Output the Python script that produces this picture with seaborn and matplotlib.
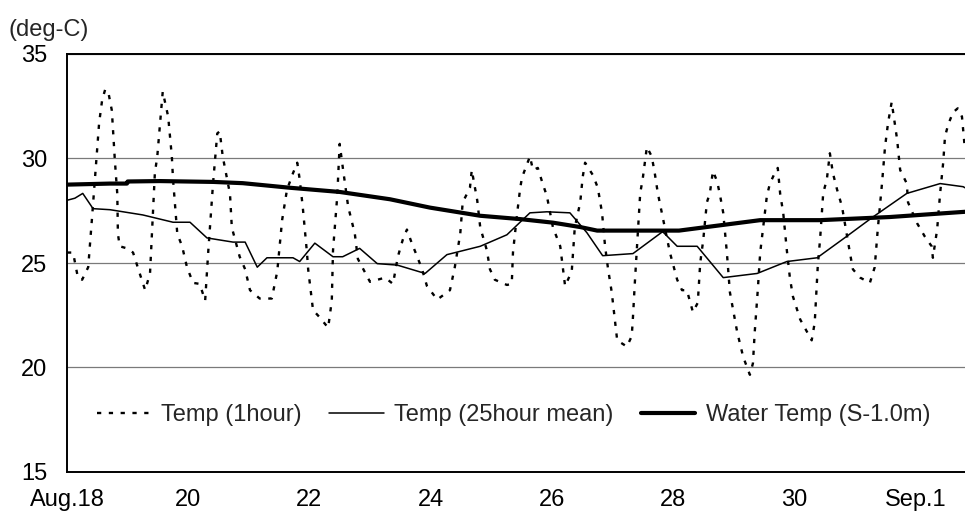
import matplotlib
matplotlib.use("Agg")
import matplotlib.pyplot as plt
import seaborn as sns
import pandas as pd
from matplotlib.ticker import MultipleLocator, FixedLocator

# ---- data (x = day of August, 32 = Sep.1) ----
hour_days = [0.00, 0.10, 0.18, 0.25, 0.35, 0.41, 0.46, 0.53, 0.58, 0.63, 0.68, 0.74, 0.79, 0.83, 0.84, 0.87,
             0.99, 1.09, 1.20, 1.29, 1.37, 1.42, 1.45, 1.49, 1.53, 1.58, 1.67, 1.73, 1.75, 1.82, 1.90, 1.98,
             2.08, 2.19, 2.28, 2.33, 2.41, 2.48, 2.52, 2.57, 2.69, 2.72, 2.85, 2.94, 3.02, 3.18, 3.38, 3.47,
             3.55, 3.63, 3.73, 3.80, 3.84, 3.89, 3.96, 3.98, 4.06, 4.17, 4.31, 4.37, 4.39, 4.46, 4.50, 4.55,
             4.64, 4.75, 4.80, 5.00, 5.25, 5.38, 5.46, 5.54, 5.61, 5.69, 5.78, 5.86, 5.94, 6.11, 6.32, 6.40,
             6.49, 6.53, 6.65, 6.68, 6.77, 6.82, 6.93, 6.98, 7.06, 7.26, 7.34, 7.36, 7.43, 7.48, 7.51, 7.64,
             7.69, 7.77, 7.85, 7.92, 8.02, 8.14, 8.22, 8.33, 8.38, 8.47, 8.51, 8.55, 8.68, 8.76, 8.83, 8.88,
             8.93, 8.99, 9.08, 9.24, 9.32, 9.34, 9.37, 9.41, 9.46, 9.50, 9.57, 9.65, 9.70, 9.75, 9.83, 9.95,
             10.07, 10.15, 10.23, 10.33, 10.41, 10.45, 10.50, 10.56, 10.61, 10.66, 10.73, 10.78, 10.83, 10.89,
             10.94, 11.06, 11.16, 11.27, 11.32, 11.35, 11.40, 11.44, 11.55, 11.60, 11.68, 11.73, 11.77, 11.82,
             11.88, 11.93, 11.98, 12.10, 12.29, 12.34, 12.39, 12.43, 12.48, 12.54, 12.59, 12.64, 12.71, 12.79,
             12.92, 12.97, 13.09, 13.25, 13.33, 13.38, 13.45, 13.50, 13.55, 13.61, 13.66, 13.70, 13.75, 13.86,
             13.88, 14.03, 14.16, 14.27, 14.29, 14.36, 14.41, 14.46, 14.49, 14.54, 14.62, 14.70, 14.77, 14.82]
hour_temp = [25.5, 25.5, 24.3, 24.2, 24.8, 27.05, 29.0, 31.7, 32.8, 33.3, 33.2, 32.3, 29.9, 28.3, 26.4, 25.8,
             25.7, 25.5, 24.5, 23.7, 24.5, 27.5, 29.3, 30.1, 31.5, 33.2, 32.0, 30.1, 29.0, 26.4, 25.8, 24.8,
             24.05, 24.0, 23.2, 25.5, 28.8, 31.2, 31.3, 30.1, 28.3, 26.7, 25.3, 24.7, 23.7, 23.3, 23.3, 24.6,
             27.05, 28.5, 29.3, 29.8, 29.0, 27.7, 25.5, 24.7, 22.75, 22.4, 21.9, 23.2, 25.6, 28.2, 30.7, 29.6,
             27.7, 26.4, 25.2, 24.1, 24.3, 24.0, 25.3, 26.1, 26.6, 25.95, 25.3, 24.7, 23.9, 23.25, 23.7, 24.8,
             26.4, 27.9, 28.6, 29.45, 28.0, 26.7, 25.6, 24.7, 24.2, 23.95, 24.0, 25.5, 27.4, 28.6, 29.1, 30.1,
             29.45, 29.55, 28.8, 28.2, 26.7, 25.8, 23.9, 24.6, 26.7, 27.9, 29.1, 29.8, 29.2, 28.6, 27.4, 25.8,
             24.7, 23.6, 21.3, 21.0, 21.5, 22.4, 24.0, 25.95, 28.35, 29.0, 30.55, 30.1, 29.3, 28.35, 27.2, 25.5,
             24.2, 23.7, 23.7, 22.65, 23.1, 25.0, 26.1, 27.9, 28.35, 29.4, 28.9, 28.2, 27.4, 25.5,
             23.6, 21.7, 20.5, 19.65, 20.2, 21.7, 23.7, 25.5, 28.2, 28.8, 29.3, 29.55, 28.3, 27.4,
             25.6, 24.3, 23.4, 22.3, 21.3, 22.15, 24.85, 26.2, 28.35, 29.0, 30.25, 29.3, 28.5, 27.7,
             25.5, 24.7, 24.3, 24.05, 24.8, 26.6, 28.8, 30.55, 31.7, 32.7, 31.7, 30.9, 29.45, 28.8,
             27.9, 26.9, 26.25, 25.8, 25.25, 26.6, 28.35, 29.8, 31.05, 31.6, 32.2, 32.4, 32.0, 30.4]

mean_days = [0.00, 0.13, 0.26, 0.43, 0.71, 1.25, 1.75, 2.03, 2.31, 2.74, 2.94, 3.14, 3.30, 3.73, 3.84, 4.09,
             4.39, 4.55, 4.83, 5.12, 5.45, 5.91, 6.27, 6.82, 7.26, 7.64, 7.92, 8.30, 8.58, 8.84, 9.34, 9.83,
             10.07, 10.40, 10.83, 11.39, 11.88, 12.38, 12.87, 13.30, 13.86, 14.41, 14.79, 14.82]
mean_temp = [28.0, 28.1, 28.33, 27.6, 27.55, 27.3, 26.95, 26.95, 26.2, 26.0, 26.0, 24.8, 25.25, 25.25, 25.07, 25.95,
             25.3, 25.3, 25.7, 24.97, 24.9, 24.5, 25.4, 25.8, 26.35, 27.4, 27.45, 27.4, 26.45, 25.35, 25.45, 26.5,
             25.8, 25.8, 24.3, 24.5, 25.07, 25.25, 26.28, 27.2, 28.33, 28.8, 28.65, 28.6]

water_days = [0.00, 0.71, 0.99, 1.00, 1.53, 2.41, 2.90, 3.68, 4.50, 5.33, 5.99, 6.82, 7.48, 8.02, 8.47, 8.75,
              10.10, 10.50, 11.44, 12.43, 13.58, 14.57, 14.82]
water_temp = [28.75, 28.8, 28.8, 28.9, 28.92, 28.88, 28.82, 28.6, 28.4, 28.05, 27.65, 27.26, 27.1, 26.93, 26.72, 26.55,
              26.55, 26.7, 27.05, 27.05, 27.2, 27.4, 27.45]

start_day = 18
x_tick_days = [18, 20, 22, 24, 26, 28, 30, 32]
x_tick_labels = ["Aug.18", "20", "22", "24", "26", "28", "30", "Sep.1"]
y_ticks = [15, 20, 25, 30, 35]

labels = ["Temp (1hour)", "Temp (25hour mean)", "Water Temp (S-1.0m)"]

# ---- plotting ----
sns.set_style("white")
plt.rcParams["font.family"] = ["Liberation Sans", "DejaVu Sans"]

fig = plt.figure(figsize=(9.65, 5.17), dpi=100)
ax = fig.add_axes([67 / 965, 1 - 472 / 517, 1 - 67 / 965, (472 - 54) / 517])

df_h = pd.DataFrame({"day": [start_day + d for d in hour_days], "temp": hour_temp})
df_m = pd.DataFrame({"day": [start_day + d for d in mean_days], "temp": mean_temp})
df_w = pd.DataFrame({"day": [start_day + d for d in water_days], "temp": water_temp})

sns.lineplot(data=df_h, x="day", y="temp", ax=ax, color="black", lw=1.7,
             linestyle=(0, (1.8, 3.2)), label=labels[0], sort=False)
sns.lineplot(data=df_m, x="day", y="temp", ax=ax, color="black", lw=1.1,
             label=labels[1], sort=False)
sns.lineplot(data=df_w, x="day", y="temp", ax=ax, color="black", lw=3.0,
             label=labels[2], sort=False)

ax.set_xlim(start_day, start_day + 14.82)
ax.set_ylim(15, 35)
ax.xaxis.set_major_locator(FixedLocator(x_tick_days))
ax.set_xticklabels(x_tick_labels)
ax.xaxis.set_minor_locator(MultipleLocator(1))
ax.set_yticks(y_ticks)
ax.set_xlabel("")
ax.set_ylabel("")

ax.yaxis.grid(True, color="#7a7a7a", lw=0.9)
ax.set_axisbelow(True)
for s in ["left", "bottom", "top"]:
    ax.spines[s].set_color("black")
    ax.spines[s].set_linewidth(1.4)
ax.spines["right"].set_visible(False)

ax.tick_params(axis="both", which="both", direction="in", length=3, width=0.8,
               colors="black", labelsize=17)
ax.tick_params(axis="x", which="both", pad=12)
ax.tick_params(axis="y", which="both", length=0, pad=14)

leg = ax.legend(loc="center", bbox_to_anchor=(0.497, 0.136), ncol=3, frameon=False,
                fontsize=17, handlelength=2.3, handletextpad=0.45, columnspacing=1.15)

fig.text(8 / 965, 1 - 30 / 517, "(deg-C)", fontsize=17, va="center", ha="left")

fig.savefig("out.png", dpi=100)
